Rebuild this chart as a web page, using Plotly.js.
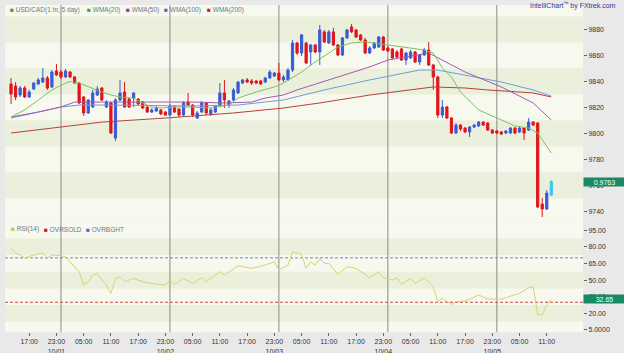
<!DOCTYPE html>
<html><head><meta charset="utf-8">
<script src="https://cdn.plot.ly/plotly-3.0.1.min.js"></script>
<style>html,body{margin:0;padding:0;background:#e9e9e9;}#chart{width:624px;height:353px;}</style>
</head><body><div id="chart"></div>
<script>
// ---- DATA (hour index: 0 = 10/01 00:00) ----
const hours = [-11,-10,-9,-8,-7,-6,-5,-4,-3,-2,-1,0,1,2,3,4,5,6,7,8,9,10,11,12,13,14,15,16,17,18,19,20,21,22,23,24,25,26,27,28,29,30,31,32,33,34,35,36,37,38,39,40,41,42,43,44,45,46,47,48,49,50,51,52,53,54,55,56,57,58,59,60,61,62,63,64,65,66,67,68,69,70,71,72,73,74,75,76,77,78,79,80,81,82,83,84,85,86,87,88,89,90,91,92,93,94,95,96,97,98,99,100,101,102,103,104,105,106,107,108];
const openP = [.98381,.98365,.98296,.98350,.98281,.98342,.98381,.98396,.98427,.98358,.98481,.98473,.98435,.98473,.98435,.98388,.98281,.98158,.98204,.98296,.98350,.98204,.98235,.97965,.98258,.98319,.98265,.98273,.98265,.98242,.98204,.98165,.98173,.98181,.98165,.98142,.98204,.98188,.98142,.98242,.98219,.98119,.98165,.98235,.98150,.98165,.98212,.98312,.98219,.98258,.98312,.98388,.98412,.98404,.98404,.98404,.98396,.98427,.98442,.98465,.98412,.98412,.98488,.98696,.98619,.98696,.98627,.98681,.98627,.98781,.98696,.98781,.98681,.98604,.98735,.98819,.98796,.98758,.98719,.98619,.98658,.98665,.98742,.98658,.98650,.98627,.98650,.98565,.98581,.98627,.98550,.98604,.98642,.98527,.98435,.98142,.98204,.98119,.98004,.98065,.98042,.98012,.98050,.98058,.98088,.98081,.98027,.98019,.98012,.98004,.98004,.98042,.98012,.98042,.98027,.98088,.98081,.97458,.97420,.97527];
const highP = [.98427,.98396,.98365,.98365,.98335,.98396,.98427,.98504,.98442,.98488,.98535,.98488,.98496,.98481,.98442,.98396,.98288,.98265,.98335,.98365,.98358,.98258,.98242,.98273,.98412,.98396,.98273,.98319,.98273,.98250,.98212,.98196,.98212,.98188,.98173,.98227,.98219,.98196,.98250,.98312,.98227,.98173,.98250,.98242,.98196,.98219,.98388,.98412,.98258,.98350,.98404,.98419,.98427,.98419,.98412,.98412,.98435,.98488,.98473,.98542,.98450,.98504,.98719,.98704,.98765,.98704,.98688,.98688,.98835,.98796,.98796,.98812,.98688,.98742,.98804,.98842,.98804,.98765,.98735,.98673,.98704,.98750,.98750,.98673,.98658,.98642,.98658,.98627,.98642,.98635,.98612,.98658,.98704,.98535,.98442,.98258,.98212,.98127,.98081,.98073,.98050,.98058,.98073,.98096,.98096,.98088,.98035,.98027,.98019,.98027,.98050,.98050,.98058,.98050,.98119,.98096,.98088,.97504,.97565,.97642];
const lowP = [.98227,.98258,.98281,.98273,.98273,.98335,.98373,.98388,.98335,.98350,.98442,.98419,.98427,.98427,.98381,.98227,.98135,.98150,.98196,.98288,.98250,.98196,.97996,.97942,.98250,.98196,.98196,.98204,.98219,.98188,.98158,.98158,.98165,.98142,.98135,.98135,.98158,.98127,.98135,.98212,.98127,.98112,.98158,.98142,.98135,.98158,.98204,.98196,.98196,.98250,.98304,.98381,.98388,.98373,.98381,.98373,.98388,.98419,.98435,.98404,.98396,.98404,.98473,.98604,.98596,.98535,.98527,.98619,.98527,.98696,.98688,.98673,.98596,.98596,.98727,.98773,.98735,.98712,.98612,.98612,.98650,.98658,.98635,.98627,.98573,.98581,.98558,.98527,.98573,.98542,.98527,.98596,.98519,.98335,.98119,.98119,.98112,.97996,.97996,.98019,.98004,.97973,.98042,.98050,.98058,.98019,.97996,.97996,.97988,.97996,.97996,.97996,.98004,.97950,.98019,.98058,.97427,.97358,.97412,.97519];
const closeP = [.98304,.98281,.98350,.98281,.98319,.98388,.98412,.98427,.98350,.98473,.98450,.98435,.98481,.98435,.98388,.98235,.98158,.98258,.98312,.98342,.98258,.98242,.98004,.98258,.98312,.98204,.98204,.98312,.98227,.98196,.98165,.98181,.98196,.98150,.98142,.98212,.98165,.98142,.98235,.98219,.98142,.98158,.98235,.98158,.98181,.98212,.98312,.98258,.98250,.98335,.98396,.98412,.98396,.98388,.98388,.98381,.98427,.98473,.98465,.98412,.98435,.98488,.98696,.98619,.98758,.98542,.98681,.98627,.98796,.98704,.98781,.98681,.98604,.98735,.98796,.98781,.98742,.98719,.98619,.98658,.98696,.98742,.98642,.98635,.98581,.98588,.98565,.98619,.98627,.98550,.98604,.98642,.98527,.98435,.98142,.98204,.98119,.98004,.98065,.98035,.98012,.98050,.98065,.98088,.98065,.98027,.98004,.98004,.97996,.98019,.98042,.98004,.98042,.98004,.98088,.98065,.97435,.97420,.97542,.97630];

const wma20Hour = [-11,-8,-5,-2,1,2,4,6,9,11,13,16,18,20,22,26,28,33,37,39,43,47,49,53,56,59,61,64,67,72,77,80,82,84,86,88,92,96,100,103,105,108];
const wma20 = [.98127,.98181,.98258,.98335,.98388,.98400,.98388,.98358,.98319,.98296,.98281,.98273,.98235,.98204,.98196,.98204,.98204,.98196,.98219,.98273,.98319,.98358,.98388,.98473,.98550,.98619,.98665,.98696,.98704,.98681,.98658,.98642,.98619,.98504,.98435,.98319,.98181,.98119,.98058,.98042,.98004,.97850];
const wma50Hour = [-11,-5,0,3,10,29,36,42,45,49,52,61,68,72,81,89,97,104,108];
const wma50 = [.98127,.98165,.98204,.98242,.98242,.98242,.98235,.98242,.98273,.98296,.98335,.98435,.98512,.98565,.98619,.98473,.98358,.98235,.98104];
const wma100Hour = [-11,0,4,10,29,39,49,58,68,79,83,89,97,104,108];
const wma100 = [.98119,.98204,.98219,.98219,.98212,.98219,.98258,.98335,.98412,.98488,.98488,.98450,.98396,.98335,.98288];
const wma200Hour = [-11,9,23,38,49,57,68,82,89,94,104,108];
const wma200 = [.98004,.98088,.98119,.98158,.98196,.98235,.98296,.98358,.98350,.98335,.98312,.98281];

const rsiHour = [-11,-10,-9,-8,-6,-4,-3,-2,0,1,2,4,5,6,7,8,9,10,11,12,13,14,16,18,20,23,24,25,27,29,31,32,35,36,39,42,45,47,48,50,51,52,53,54,55,56,57,58,59,61,63,65,68,70,71,73,74,75,77,78,80,82,83,84,86,87,89,92,94,97,100,101,103,104,105,106,107,108];
const rsi = [78.5,74.3,72.5,70.1,72.5,74.3,70.1,72.5,71.9,71.0,66.5,57.5,45.5,48.5,54.5,56.0,50.0,45.5,38.0,51.5,53.0,48.5,51.5,48.5,47.0,45.5,50.0,46.1,51.5,47.0,52.1,48.5,57.5,54.5,62.9,60.5,63.5,66.5,59.0,63.5,75.5,74.0,73.0,60.5,66.5,63.5,69.2,65.0,65.0,55.1,62.0,60.5,52.1,57.5,52.1,50.0,52.1,46.1,51.5,47.0,52.1,44.0,30.5,33.5,28.1,30.5,31.1,36.5,32.9,32.9,36.5,38.0,43.1,44.0,19.1,18.5,27.4,32.65];
const overbought = 70;
const oversold = 30;

const dayLineHours = [0,24,48,72,96];
const tickHours = [-7,-1,5,11,17,23,29,35,41,47,53,59,65,71,77,83,89,95,101,107];
const tickLabels = ['17:00','23:00<br>10/01','05:00','11:00','17:00','23:00<br>10/02','05:00','11:00','17:00','23:00<br>10/03','05:00','11:00','17:00','23:00<br>10/04','05:00','11:00','17:00','23:00<br>10/05','05:00','11:00'];
const priceTicks = [0.974,0.976,0.978,0.980,0.982,0.984,0.986,0.988];
const priceTickText = ['9740','9760','9780','9800','9820','9840','9860','9880'];
const rsiTicks = [5,20,35,50,65,80,95];
const rsiTickText = ['5.0000','20.00','35.00','50.00','65.00','80.00','95.00'];

// ---- LAYOUT helpers ----
const L=5, R=583, T=5, B=332;
const px = x => (x-L)/(R-L);
const py = y => (B-y)/(B-T);
const n = hours.length;
const FONT = 'Arial, Liberation Sans, sans-serif';

const RED='#e3141a', BLUE='#3a5bd6', CYAN='#3fc6ee';
const traces = [
  {type:'candlestick', x:hours.slice(0,n-1), open:openP.slice(0,n-1), high:highP.slice(0,n-1), low:lowP.slice(0,n-1), close:closeP.slice(0,n-1),
   increasing:{line:{color:BLUE,width:1},fillcolor:BLUE}, decreasing:{line:{color:RED,width:1},fillcolor:RED},
   whiskerwidth:0, hoverinfo:'skip', showlegend:false, xaxis:'x', yaxis:'y'},
  {type:'candlestick', x:hours.slice(n-1), open:openP.slice(n-1), high:highP.slice(n-1), low:lowP.slice(n-1), close:closeP.slice(n-1),
   increasing:{line:{color:CYAN,width:1},fillcolor:CYAN}, decreasing:{line:{color:CYAN,width:1},fillcolor:CYAN},
   whiskerwidth:0, hoverinfo:'skip', showlegend:false, xaxis:'x', yaxis:'y'},
  {type:'scatter', mode:'lines', x:wma200Hour, y:wma200, line:{color:'#b5403c',width:1}, hoverinfo:'skip', showlegend:false, xaxis:'x', yaxis:'y'},
  {type:'scatter', mode:'lines', x:wma100Hour, y:wma100, line:{color:'#6a9fd8',width:1}, hoverinfo:'skip', showlegend:false, xaxis:'x', yaxis:'y'},
  {type:'scatter', mode:'lines', x:wma50Hour, y:wma50, line:{color:'#a558b5',width:1}, hoverinfo:'skip', showlegend:false, xaxis:'x', yaxis:'y'},
  {type:'scatter', mode:'lines', x:wma20Hour, y:wma20, line:{color:'#7cc25c',width:1}, hoverinfo:'skip', showlegend:false, xaxis:'x', yaxis:'y'},
  {type:'scatter', mode:'lines', x:rsiHour, y:rsi, line:{color:'#d9d272',width:1}, hoverinfo:'skip', showlegend:false, xaxis:'x', yaxis:'y2'}
];

const shapes = [];
const DARK = '#ebf0dc';
[1,3,5,7].forEach(i => shapes.push({type:'rect', xref:'paper', yref:'y', x0:0, x1:1, y0:priceTicks[i]-0.001, y1:priceTicks[i]+0.001, fillcolor:DARK, line:{width:0}, layer:'below'}));
[1,3,5].forEach(i => shapes.push({type:'rect', xref:'paper', yref:'y2', x0:0, x1:1, y0:rsiTicks[i]-7.5, y1:rsiTicks[i]+7.5, fillcolor:DARK, line:{width:0}, layer:'below'}));
dayLineHours.forEach(h => shapes.push({type:'line', xref:'x', yref:'paper', x0:h, x1:h, y0:0, y1:1, line:{color:'#8a8a8a',width:1}, layer:'below'}));
shapes.push({type:'line', xref:'paper', yref:'y2', x0:0, x1:1, y0:overbought, y1:overbought, line:{color:'#6b86c8',width:1,dash:'3px,2px'}, layer:'below'});
shapes.push({type:'line', xref:'paper', yref:'y2', x0:0, x1:1, y0:oversold, y1:oversold, line:{color:'#c84848',width:1,dash:'3px,2px'}, layer:'below'});

const LEG = '#687888';
function leg(text, color, x, y){
  return {xref:'paper', yref:'paper', x:px(x), y:py(y), xanchor:'left', yanchor:'middle', showarrow:false,
    text:'<span style="color:'+color+'">■</span> '+text, font:{family:FONT,size:6.5,color:LEG}, borderpad:0};
}
const annotations = [
  leg('USD/CAD(1 hr, 5 day)','#3e9e3e',9,10),
  leg('WMA(20)','#44aa33',86,10),
  leg('WMA(50)','#a22fb0',125,10),
  leg('WMA(100)','#3f6fd0',163,10),
  leg('WMA(200)','#cc2222',206,10),
  leg('RSI(14)','#c9c23c',10,229),
  leg('OVRSOLD','#cc2222',43,229),
  leg('OVRBGHT','#3f6fd0',85,229),
  {xref:'paper', yref:'paper', x:px(529), y:py(5), xanchor:'left', yanchor:'middle', showarrow:false,
   text:'IntelliChart<sup>™</sup> by FXtrek.com', font:{family:FONT,size:7,color:'#34349a'}, borderpad:0},
  {xref:'paper', yref:'y', x:1, y:closeP[n-1], xanchor:'left', yanchor:'middle', showarrow:false,
   text:closeP[n-1].toFixed(4), font:{family:FONT,size:7,color:'#ffffff'}, bgcolor:'#168a64', width:41, height:8, borderpad:0, align:'center'},
  {xref:'paper', yref:'y2', x:1, y:rsi[rsi.length-1], xanchor:'left', yanchor:'middle', showarrow:false,
   text:rsi[rsi.length-1].toFixed(2), font:{family:FONT,size:7,color:'#ffffff'}, bgcolor:'#168a64', width:41, height:8, borderpad:0, align:'center'}
];

const tickFont = {family:FONT, size:7, color:'#333333'};
const layout = {
  width:624, height:353,
  margin:{l:L, r:624-R, t:T, b:353-B, pad:0},
  paper_bgcolor:'#e9e9e9', plot_bgcolor:'#f7f8ee',
  showlegend:false,
  xaxis:{range:[-12.33,114.98], tickmode:'array', tickvals:tickHours, ticktext:tickLabels, ticks:'outside', ticklen:3, tickcolor:'#666',
    tickfont:tickFont, showgrid:false, zeroline:false, showline:false, anchor:'y2', rangeslider:{visible:false}, fixedrange:true},
  yaxis:{domain:[0.336,1], range:[0.97319,0.98988], side:'right', tickmode:'array', tickvals:priceTicks, ticktext:priceTickText,
    ticks:'outside', ticklen:3, tickcolor:'#666', tickfont:tickFont, showgrid:false, zeroline:false, showline:false, anchor:'x', fixedrange:true},
  yaxis2:{domain:[0,0.336], range:[3.2,102.2], side:'right', tickmode:'array', tickvals:rsiTicks, ticktext:rsiTickText,
    ticks:'outside', ticklen:3, tickcolor:'#666', tickfont:tickFont, showgrid:false, zeroline:false, showline:false, anchor:'x', fixedrange:true},
  shapes:shapes, annotations:annotations
};
Plotly.newPlot('chart', traces, layout, {staticPlot:true, displayModeBar:false});
</script></body></html>
